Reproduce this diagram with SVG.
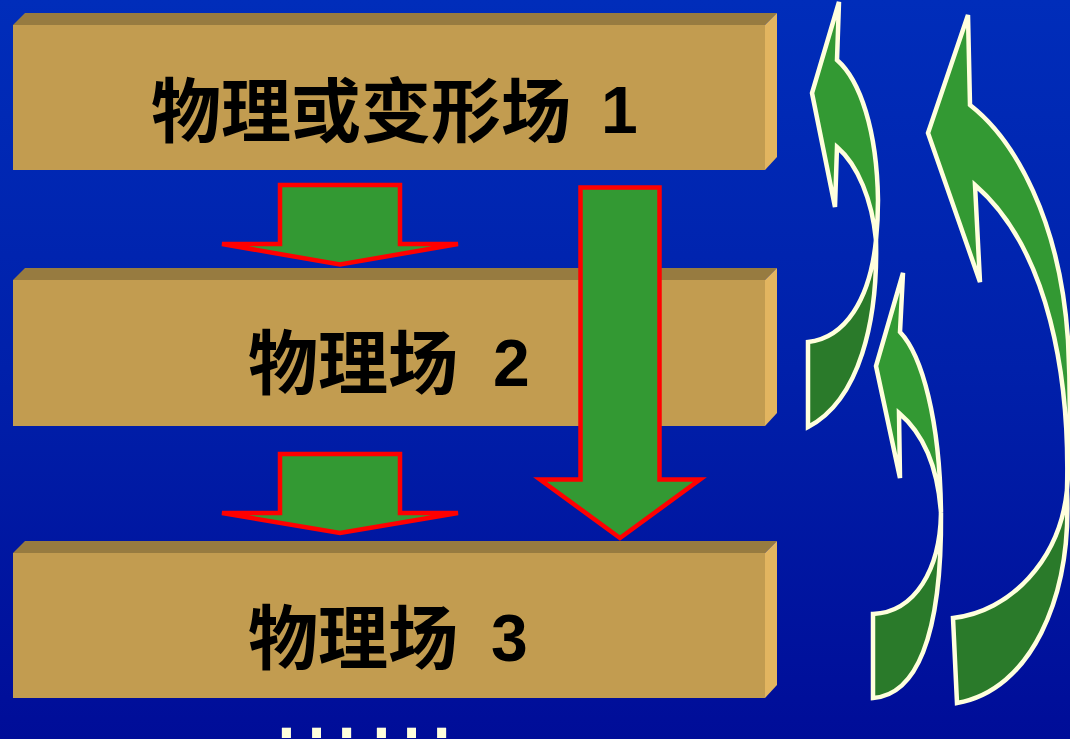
<svg xmlns="http://www.w3.org/2000/svg" width="1070" height="739" viewBox="0 0 1070 739">
<defs>
<linearGradient id="bg" x1="0" y1="0" x2="0" y2="1">
<stop offset="0" stop-color="#002DBA"/>
<stop offset="0.5" stop-color="#0020AA"/>
<stop offset="1" stop-color="#000D98"/>
</linearGradient>
<style>
.front{fill:#C29C50;}
.top{fill:#977B40;}
.side{fill:#E2B560;}
.cjk{font-family:"Noto Sans CJK SC","Noto Sans CJK JP",sans-serif;font-weight:700;font-size:70px;fill:#000;}
.num{font-family:"Liberation Sans",Arial,sans-serif;font-weight:700;font-size:66px;fill:#000;}
.down{fill:#339933;stroke:#FF0000;stroke-width:4.5;stroke-linejoin:miter;}
.light{fill:#339933;stroke:#FFFFDD;stroke-width:4.5;stroke-linejoin:miter;}
.dark{fill:#2A7A2A;stroke:#FFFFDD;stroke-width:4.5;stroke-linejoin:miter;}
.dots{font-family:"Liberation Sans",Arial,sans-serif;font-size:95px;fill:#FFFFDD;}
</style>
</defs>
<rect x="0" y="0" width="1070" height="739" fill="url(#bg)"/>

<g id="box1">
<polygon class="top" points="13,25 25,13 777,13 765,25"/>
<polygon class="side" points="765,25 777,13 777,157 765,170"/>
<rect class="front" x="13" y="25" width="752" height="145"/>
<text class="cjk" x="151" y="137">物理或变形场</text>
<text class="num" x="601" y="133">1</text>
</g>

<g id="box2">
<polygon class="top" points="13,280 25,268 777,268 765,280"/>
<polygon class="side" points="765,280 777,268 777,413 765,426"/>
<rect class="front" x="13" y="280" width="752" height="146"/>
<text class="cjk" x="248" y="389">物理场</text>
<text class="num" x="493" y="386">2</text>
</g>

<g id="box3">
<polygon class="top" points="13,553 25,541 777,541 765,553"/>
<polygon class="side" points="765,553 777,541 777,685 765,698"/>
<rect class="front" x="13" y="553" width="752" height="145"/>
<text class="cjk" x="248" y="664">物理场</text>
<text class="num" x="491" y="661">3</text>
</g>

<g id="connectors">
<path class="down" d="M280,185 H400 V244 H458 L340,264.5 L222,244 H280 Z"/>
<path class="down" d="M280,454 H400 V513 H458 L340,533 L222,513 H280 Z"/>
<path class="down" d="M580.5,187.5 H659.5 V479.5 H700 L620,538 L540,479.5 H580.5 Z"/>

<g id="feedback">
<path class="dark" d="M876,240 C878,320 860,400 808,427 L808,342 C845,338 870,300 876,240 Z"/>
<path class="light" d="M839,2 L837,60 C860,80 877,130 878,200 C878,215 877,230 876,240 C872,200 858,165 837,147 L835,207 L812,93 Z"/>

<path class="dark" d="M1067,490 C1060,560 1010,612 953,618 L957,703 C1030,690 1072,600 1067,490 Z"/>
<path class="light" d="M968,15 L970,105 C1015,140 1060,220 1068,340 C1071,400 1070,450 1067,490 C1070,380 1050,250 975,185 L980,282 L928,133 Z"/>

<path class="dark" d="M941,513 C940,570 915,612 873,614 L873,698 C915,695 942,640 941,513 Z"/>
<path class="light" d="M903,273 L900,332 C922,355 940,420 941,513 C938,470 925,435 899,413 L900,478 L876,366 Z"/>
</g>
</g>

<text class="dots" x="269" y="738">……</text>
</svg>
